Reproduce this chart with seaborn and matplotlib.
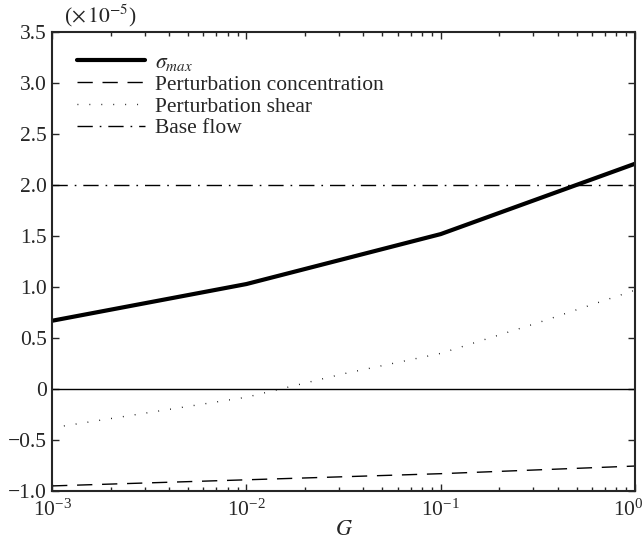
import numpy as np
import pandas as pd
import matplotlib
matplotlib.use("Agg")
import matplotlib.pyplot as plt
import matplotlib.transforms as mtransforms
import seaborn as sns
from matplotlib.ticker import FixedLocator, FuncFormatter, LogLocator, NullFormatter

# Growth-rate components versus G (values in units of 1e-5)
g_coarse = [1e-3, 1e-2, 1e-1, 1e0]
sigma_max = [0.67, 1.03, 1.52, 2.21]
pert_conc = [-0.95, -0.89, -0.83, -0.755]

g_fine = [1e-3, 10**-2.5, 1e-2, 10**-1.5, 1e-1, 10**-0.5, 1e0]
pert_shear = [-0.38, -0.23, -0.08, 0.15, 0.35, 0.65, 0.97]

base_flow_g = [1e-3, 1e0]
base_flow = [2.0, 2.0]

y_ticks = [-1.0, -0.5, 0.0, 0.5, 1.0, 1.5, 2.0, 2.5, 3.0, 3.5]

sns.set_style("ticks")
plt.rcParams["font.family"] = ["Liberation Serif", "DejaVu Serif"]
plt.rcParams["mathtext.fontset"] = "stix"

frames = [
    pd.DataFrame({"G": g_coarse, "value": sigma_max, "series": "sigma"}),
    pd.DataFrame({"G": g_coarse, "value": pert_conc, "series": "conc"}),
    pd.DataFrame({"G": g_fine, "value": pert_shear, "series": "shear"}),
    pd.DataFrame({"G": base_flow_g, "value": base_flow, "series": "base"}),
]
labels = {
    "sigma": r"$\sigma_{max}$",
    "conc": "Perturbation concentration",
    "shear": "Perturbation shear",
    "base": "Base flow",
}
styles = {
    "sigma": dict(lw=3.0, ls="-"),
    "conc": dict(lw=1.0, ls=(0, (11, 7))),
    "shear": dict(lw=1.0, ls=(0, (0.6, 8))),
    "base": dict(lw=1.0, ls=(0, (11, 5, 1.2, 5))),
}

fig = plt.figure(figsize=(6.43, 5.46), dpi=100)
ax = fig.add_axes([0.081, 0.1007, 0.9066, 0.8403])

ax.axhline(0, color="black", lw=1.0, zorder=1)

for df in frames:
    key = df["series"].iloc[0]
    sns.lineplot(data=df, x="G", y="value", ax=ax, color="black",
                 label=labels[key], linestyle=styles[key]["ls"],
                 linewidth=styles[key]["lw"], sort=True, legend=True)

ax.set_xscale("log")
ax.set_xlim(1e-3, 1e0)
ax.set_ylim(-1.0, 3.5)

ax.xaxis.set_major_locator(LogLocator(base=10, numticks=10))
ax.xaxis.set_minor_locator(LogLocator(base=10, subs=np.arange(2, 10), numticks=10))
ax.xaxis.set_minor_formatter(NullFormatter())
ax.yaxis.set_major_locator(FixedLocator(y_ticks))


def yfmt(v, pos):
    if abs(v) < 1e-9:
        return "0"
    s = f"{v:.1f}"
    return s.replace("-", "\u2212")


ax.yaxis.set_major_formatter(FuncFormatter(yfmt))

ax.tick_params(which="both", direction="in", top=True, right=True,
               labelsize=15.5, width=1.0)
ax.tick_params(axis="y", pad=4)
ax.tick_params(axis="x", pad=6)
ax.tick_params(which="major", length=5)
ax.tick_params(which="minor", length=3)
for sp in ax.spines.values():
    sp.set_linewidth(1.5)
    sp.set_visible(True)

ax.set_xlabel("$G$", fontsize=16, labelpad=0)
ax.set_ylabel("")
ax.text(0.02, 1.008, r"($\times\,10^{-5}$)", transform=ax.transAxes,
        fontsize=15.5, ha="left", va="bottom")

leg = ax.legend(loc="upper left", frameon=False, fontsize=15.5,
                handlelength=3.2, handletextpad=0.45, labelspacing=0.08,
                borderaxespad=0.0, borderpad=0.0,
                bbox_to_anchor=(0.042, 0.955))

# nudge the rightmost x tick label so it stays inside the figure
fig.canvas.draw()
for t in ax.xaxis.get_major_ticks():
    if np.isclose(t.get_loc(), 1.0):
        t.label1.set_transform(t.label1.get_transform() +
                               mtransforms.ScaledTranslation(-0.07, 0, fig.dpi_scale_trans))

fig.savefig("out.png", dpi=100)
